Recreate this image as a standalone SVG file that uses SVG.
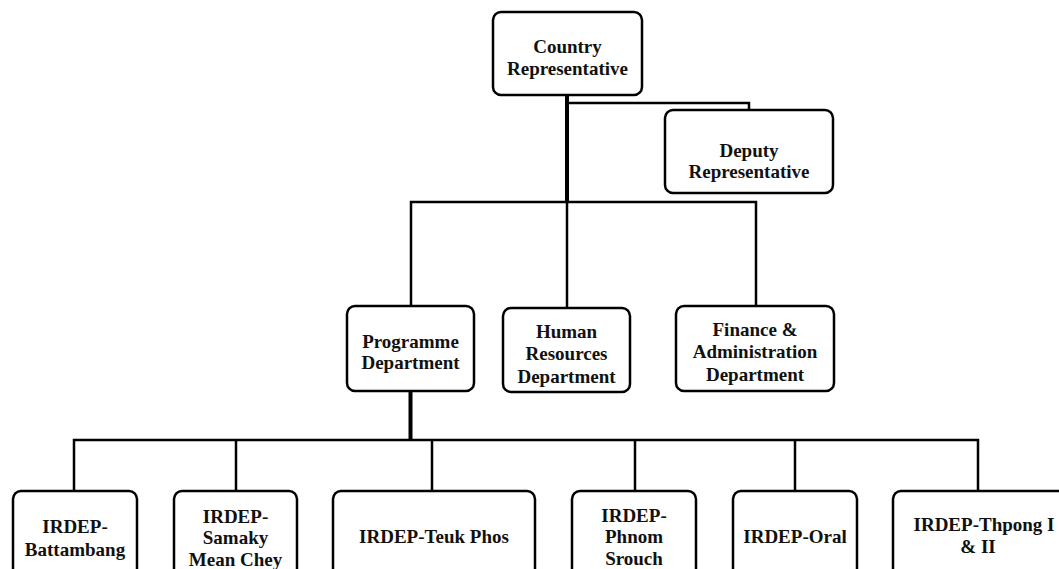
<svg xmlns="http://www.w3.org/2000/svg" width="1059" height="569" viewBox="0 0 1059 569">
<style>
.box{fill:#fff;stroke:#000;stroke-width:2.5}
.t{font-family:"Liberation Serif","Times New Roman",serif;font-weight:bold;font-size:19px;fill:#111;text-anchor:middle}
.c{fill:none;stroke:#000;stroke-width:2.5}
.ct{fill:none;stroke:#000;stroke-width:4}
</style>
<rect width="1059" height="569" fill="#fff"/>
<g id="connectors">
<path class="c" d="M567 103 H749 V110"/>
<path class="c" d="M411 306 V202 H756 V306"/>
<path class="c" d="M567 202 V308"/>
<path class="ct" d="M567 95 V202"/>
<path class="ct" d="M410.5 391 V440"/>
<path class="c" d="M74 491 V440 H978 V491"/>
<path class="c" d="M236 440 V491 M432 440 V491 M635 440 V491 M795 440 V491"/>
</g>
<g id="country-representative">
<rect class="box" x="493" y="12" width="149" height="83" rx="8"/>
<text class="t" x="567.5" y="53">Country</text>
<text class="t" x="567.5" y="75">Representative</text>
</g>
<g id="deputy-representative">
<rect class="box" x="665" y="110" width="168" height="83" rx="8"/>
<text class="t" x="749" y="157">Deputy</text>
<text class="t" x="749" y="178">Representative</text>
</g>
<g id="programme-department">
<rect class="box" x="347" y="306" width="127" height="85" rx="8"/>
<text class="t" x="410.5" y="348">Programme</text>
<text class="t" x="410.5" y="369">Department</text>
</g>
<g id="hr-department">
<rect class="box" x="503" y="308" width="127" height="84" rx="8"/>
<text class="t" x="566.5" y="338">Human</text>
<text class="t" x="566.5" y="360">Resources</text>
<text class="t" x="566.5" y="383">Department</text>
</g>
<g id="finance-department">
<rect class="box" x="676" y="306" width="158" height="85" rx="8"/>
<text class="t" x="755" y="336">Finance &amp;</text>
<text class="t" x="755" y="358">Administration</text>
<text class="t" x="755" y="381">Department</text>
</g>
<g id="irdep-battambang">
<rect class="box" x="13" y="491" width="124" height="110" rx="8"/>
<text class="t" x="75" y="533">IRDEP-</text>
<text class="t" x="75" y="556">Battambang</text>
</g>
<g id="irdep-samaky">
<rect class="box" x="174" y="491" width="123" height="110" rx="8"/>
<text class="t" x="235.5" y="523">IRDEP-</text>
<text class="t" x="235.5" y="544">Samaky</text>
<text class="t" x="235.5" y="566">Mean Chey</text>
</g>
<g id="irdep-teuk-phos">
<rect class="box" x="333" y="491" width="202" height="110" rx="8"/>
<text class="t" x="434" y="543">IRDEP-Teuk Phos</text>
</g>
<g id="irdep-phnom-srouch">
<rect class="box" x="572" y="491" width="124" height="110" rx="8"/>
<text class="t" x="634" y="522">IRDEP-</text>
<text class="t" x="634" y="543">Phnom</text>
<text class="t" x="634" y="565">Srouch</text>
</g>
<g id="irdep-oral">
<rect class="box" x="733" y="491" width="124" height="110" rx="8"/>
<text class="t" x="795" y="543">IRDEP-Oral</text>
</g>
<g id="irdep-thpong">
<rect class="box" x="893" y="491" width="200" height="110" rx="8"/>
<text class="t" x="984" y="531">IRDEP-Thpong I</text>
<text class="t" x="978" y="553">&amp; II</text>
</g>
</svg>
